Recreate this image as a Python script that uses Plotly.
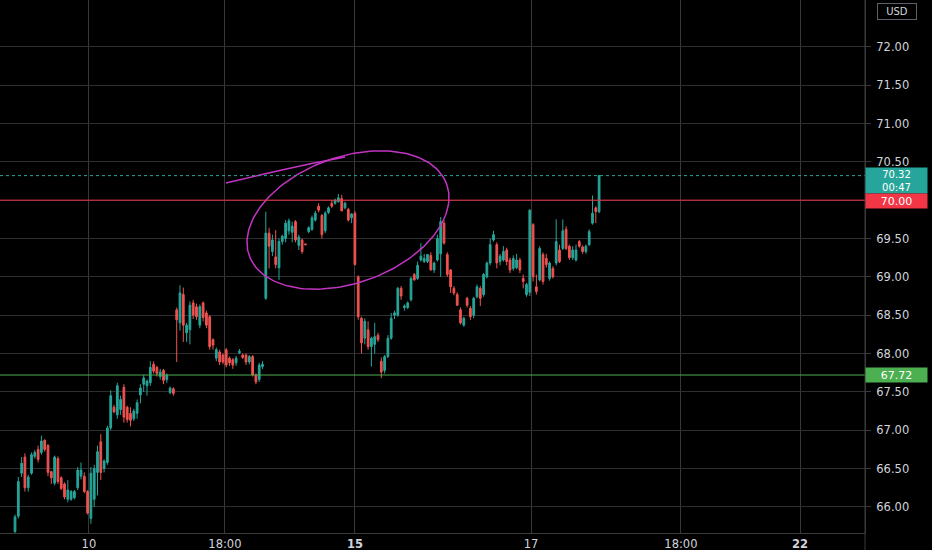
import numpy as np
import plotly.graph_objects as go

# ---------------- data ----------------
opens = [65.68, 65.88, 66.44, 66.65, 66.25, 66.44, 66.66, 66.75, 66.71, 66.87,
         66.80, 66.46, 66.31, 66.63, 66.38, 66.30, 66.10, 66.10, 66.12, 66.25,
         66.40, 66.40, 66.20, 65.85, 66.10, 66.45, 66.85, 66.50, 66.58, 67.03,
         67.30, 67.20, 67.27, 67.56, 67.30, 67.22, 67.15, 67.22, 67.46, 67.60,
         67.58, 67.62, 67.86, 67.82, 67.70, 67.78, 67.66, 67.49, 67.54, 68.57,
         68.40, 68.77, 68.27, 68.31, 68.66, 68.61, 68.37, 68.66, 68.53, 68.48,
         68.18, 67.94, 68.02, 67.98, 68.05, 67.94, 67.92, 67.88, 68.01, 67.98,
         67.98, 67.89, 67.96, 67.72, 67.66, 67.83, 68.72, 69.57, 69.33, 69.26,
         69.12, 69.46, 69.50, 69.60, 69.58, 69.72, 69.41, 69.48, 69.43, 69.59,
         69.62, 69.74, 69.92, 69.80, 69.60, 69.84, 69.96, 69.96, 69.98, 70.02,
         69.90, 69.88, 69.77, 69.83, 69.00, 68.46, 68.20, 68.31, 68.09, 68.12,
         68.24, 67.90, 67.78, 67.96, 68.20, 68.50, 68.50, 68.85, 68.60, 68.60,
         68.70, 69.03, 68.98, 69.22, 69.20, 69.20, 69.28, 69.09, 69.22, 69.30,
         69.70, 69.29, 69.09, 68.85, 68.77, 68.57, 68.37, 68.72, 68.59, 68.50,
         68.74, 68.85, 68.77, 69.00, 69.18, 69.48, 69.42, 69.20, 69.22, 69.35,
         69.22, 69.11, 69.12, 69.22, 68.98, 68.77, 68.80, 69.68, 68.87, 68.96,
         69.29, 69.24, 68.98, 69.11, 69.18, 69.35, 69.37, 69.62, 69.40, 69.25,
         69.22, 69.46, 69.39, 69.33, 69.42, 69.70, 69.90, 69.85]
highs = [65.90, 66.39, 66.65, 66.70, 66.42, 66.71, 66.74, 66.80, 66.93, 66.88,
         66.82, 66.47, 66.67, 66.66, 66.40, 66.32, 66.35, 66.22, 66.22, 66.52,
         66.58, 66.45, 66.22, 66.52, 66.55, 66.80, 66.95, 66.62, 67.06, 67.52,
         67.33, 67.62, 67.45, 67.60, 67.32, 67.30, 67.28, 67.40, 67.60, 67.72,
         67.66, 67.90, 67.90, 67.84, 67.80, 67.80, 67.74, 67.57, 67.56, 68.60,
         68.89, 68.86, 68.40, 68.68, 68.70, 68.65, 68.64, 68.68, 68.56, 68.50,
         68.20, 68.08, 68.05, 68.00, 68.07, 67.96, 67.94, 67.97, 68.06, 68.00,
         68.00, 67.98, 67.98, 67.74, 67.88, 67.90, 69.85, 69.64, 69.55, 69.61,
         69.50, 69.55, 69.74, 69.76, 69.72, 69.74, 69.55, 69.50, 69.43, 69.66,
         69.80, 69.86, 69.96, 69.82, 69.86, 69.92, 70.00, 70.02, 70.08, 70.07,
         69.98, 69.90, 69.83, 69.86, 69.02, 68.48, 68.46, 68.42, 68.22, 68.40,
         68.27, 67.95, 67.98, 68.24, 68.53, 68.56, 68.87, 68.88, 68.64, 68.68,
         69.00, 69.05, 69.20, 69.44, 69.30, 69.30, 69.32, 69.20, 69.55, 69.78,
         69.74, 69.32, 69.10, 68.88, 68.80, 68.60, 68.48, 68.74, 68.62, 68.74,
         68.90, 68.88, 69.05, 69.20, 69.50, 69.60, 69.45, 69.30, 69.40, 69.38,
         69.25, 69.28, 69.30, 69.25, 69.03, 68.92, 69.88, 69.70, 69.03, 69.40,
         69.32, 69.30, 69.20, 69.14, 69.75, 69.42, 69.75, 69.66, 69.42, 69.40,
         69.42, 69.48, 69.41, 69.42, 69.62, 70.06, 69.92, 70.33]
lows = [65.66, 65.85, 66.39, 66.20, 66.20, 66.42, 66.63, 66.58, 66.68, 66.72,
        66.40, 66.30, 66.28, 66.30, 66.22, 66.10, 66.06, 66.08, 66.10, 66.22,
        66.36, 66.18, 65.90, 65.78, 66.00, 66.15, 66.35, 66.45, 66.55, 67.00,
        67.22, 67.15, 67.20, 67.10, 67.10, 67.05, 67.12, 67.15, 67.35, 67.50,
        67.45, 67.58, 67.74, 67.70, 67.66, 67.60, 67.62, 67.47, 67.45, 67.89,
        68.30, 68.15, 68.15, 68.12, 68.45, 68.44, 68.33, 68.42, 68.33, 68.05,
        68.05, 67.90, 67.85, 67.86, 67.82, 67.84, 67.80, 67.84, 67.99, 67.93,
        67.85, 67.86, 67.70, 67.60, 67.63, 67.80, 68.70, 69.11, 69.27, 69.11,
        68.96, 69.42, 69.45, 69.55, 69.45, 69.45, 69.35, 69.30, 69.41, 69.57,
        69.60, 69.72, 69.84, 69.50, 69.57, 69.82, 69.90, 69.94, 69.97, 69.86,
        69.88, 69.72, 69.70, 69.15, 68.44, 68.00, 68.12, 68.05, 67.83, 68.00,
        68.15, 67.68, 67.74, 67.94, 68.18, 68.45, 68.48, 68.70, 68.56, 68.58,
        68.68, 68.95, 68.96, 69.20, 69.18, 69.18, 69.08, 69.05, 69.20, 69.00,
        69.42, 69.00, 68.79, 68.76, 68.62, 68.38, 68.35, 68.60, 68.44, 68.46,
        68.72, 68.62, 68.74, 68.98, 69.15, 69.46, 69.11, 69.15, 69.20, 69.15,
        69.05, 69.08, 69.10, 69.05, 68.85, 68.74, 68.75, 68.94, 68.77, 68.94,
        68.90, 69.12, 68.95, 68.98, 69.15, 69.18, 69.35, 69.35, 69.22, 69.22,
        69.20, 69.38, 69.30, 69.30, 69.40, 69.68, 69.70, 69.83]
closes = [65.87, 66.33, 66.57, 66.25, 66.39, 66.68, 66.71, 66.62, 66.86, 66.75,
          66.45, 66.38, 66.65, 66.33, 66.24, 66.13, 66.22, 66.20, 66.20, 66.48,
          66.48, 66.20, 65.92, 66.44, 66.50, 66.72, 66.45, 66.60, 67.03, 67.45,
          67.24, 67.58, 67.40, 67.17, 67.14, 67.13, 67.25, 67.36, 67.55, 67.68,
          67.64, 67.82, 67.77, 67.74, 67.76, 67.65, 67.72, 67.55, 67.48, 68.44,
          68.79, 68.37, 68.37, 68.63, 68.50, 68.48, 68.61, 68.47, 68.37, 68.09,
          68.11, 68.05, 67.89, 67.89, 67.85, 67.88, 67.85, 67.94, 68.03, 67.95,
          67.89, 67.96, 67.72, 67.63, 67.85, 67.86, 69.57, 69.40, 69.48, 69.16,
          69.46, 69.53, 69.70, 69.73, 69.66, 69.48, 69.52, 69.33, 69.42, 69.64,
          69.77, 69.83, 69.87, 69.55, 69.83, 69.90, 69.92, 70.00, 70.03, 69.86,
          69.96, 69.74, 69.82, 69.16, 68.48, 68.14, 68.42, 68.09, 68.20, 68.22,
          68.18, 67.76, 67.96, 68.20, 68.46, 68.53, 68.85, 68.75, 68.62, 68.66,
          68.98, 68.96, 69.15, 69.27, 69.24, 69.29, 69.09, 69.18, 69.50, 69.72,
          69.44, 69.03, 68.87, 68.79, 68.63, 68.40, 68.46, 68.63, 68.48, 68.72,
          68.87, 68.72, 69.03, 69.18, 69.42, 69.55, 69.18, 69.27, 69.33, 69.20,
          69.09, 69.24, 69.22, 69.09, 68.94, 68.90, 69.87, 69.00, 68.81, 69.37,
          68.94, 69.16, 69.18, 69.00, 69.46, 69.20, 69.60, 69.37, 69.25, 69.35,
          69.35, 69.40, 69.33, 69.40, 69.59, 69.83, 69.85, 70.32]
bar_index = list(range(len(opens)))

x_tick_pos = [22.4, 63.6, 103.0, 156.4, 201.8, 237.9]
x_tick_text = ["10", "18:00", "<b>15</b>", "17", "18:00", "<b>22</b>"]
y_tick_vals = [66.0, 66.5, 67.0, 67.5, 68.0, 68.5, 69.0, 69.5, 70.0, 70.5, 71.0, 71.5, 72.0]

last_price = 70.32
countdown = "00:47"
resistance = 70.00
support = 67.72

# ---------------- layout constants ----------------
W, H = 932, 550
M_L, M_R, M_T, M_B = 0, 67, 0, 17
PW, PH = W - M_L - M_R, H - M_T - M_B
X_RANGE = [-4.55, 257.58]
Y_RANGE = [65.66, 72.61]

def px2x(px):
    return X_RANGE[0] + np.asarray(px, float) / PW * (X_RANGE[1] - X_RANGE[0])

def py2y(py):
    return Y_RANGE[1] - np.asarray(py, float) / PH * (Y_RANGE[1] - Y_RANGE[0])

GREEN = "#26a69a"
RED = "#ef5350"
GRID = "#2e2e2e"
VGRID = "#383838"
TXT = "#d1d4dc"
FONT = "DejaVu Sans"

fig = go.Figure()
fig.add_trace(go.Candlestick(
    x=bar_index, open=opens, high=highs, low=lows, close=closes,
    increasing=dict(line=dict(color=GREEN, width=1), fillcolor=GREEN),
    decreasing=dict(line=dict(color=RED, width=1), fillcolor=RED),
    whiskerwidth=0, hoverinfo="skip", showlegend=False,
))

# hand-drawn ellipse annotation (drawing in screen space, converted to data)
t = np.linspace(0, 2 * np.pi, 200)
phi = np.deg2rad(20)
cx, cy, a, b = 348, 220, 105, 63
ex = cx + a * np.cos(t) * np.cos(phi) + b * np.sin(t) * np.sin(phi)
ey = cy - a * np.cos(t) * np.sin(phi) + b * np.sin(t) * np.cos(phi)
fig.add_trace(go.Scatter(x=px2x(ex), y=py2y(ey), mode="lines",
                         line=dict(color="#c235c2", width=1.5),
                         hoverinfo="skip", showlegend=False))
tail_px = [226, 260, 300, 345]
tail_py = [183, 175, 166, 157]
fig.add_trace(go.Scatter(x=px2x(tail_px), y=py2y(tail_py), mode="lines",
                         line=dict(color="#c235c2", width=1.5, shape="spline"),
                         hoverinfo="skip", showlegend=False))

shapes = [
    dict(type="line", xref="paper", x0=0, x1=1, yref="y", y0=resistance, y1=resistance,
         line=dict(color="#f23645", width=1)),
    dict(type="line", xref="paper", x0=0, x1=1, yref="y", y0=support, y1=support,
         line=dict(color="#4caf50", width=1)),
    dict(type="line", xref="paper", x0=0, x1=1, yref="y", y0=last_price, y1=last_price,
         line=dict(color=GREEN, width=1, dash="dot")),
    dict(type="line", xref="paper", x0=1, x1=1, yref="paper", y0=-M_B / PH, y1=1,
         line=dict(color="#3a3a3a", width=1)),
]

annotations = [
    dict(xref="paper", x=1, xanchor="left", yref="y", y=last_price, yanchor="top", yshift=9,
         text=f"{last_price:.2f}<br>{countdown}", showarrow=False, align="center",
         font=dict(family=FONT, size=10, color="white"), bgcolor=GREEN,
         width=59, height=23, borderpad=1),
    dict(xref="paper", x=1, xanchor="left", yref="y", y=resistance, yanchor="middle", yshift=-1,
         text=f"{resistance:.2f}", showarrow=False, align="center",
         font=dict(family=FONT, size=11, color="white"), bgcolor="#f23645",
         width=59, height=12, borderpad=1),
    dict(xref="paper", x=1, xanchor="left", yref="y", y=support, yanchor="middle",
         text=f"{support:.2f}", showarrow=False, align="center",
         font=dict(family=FONT, size=11, color="white"), bgcolor="#4caf50",
         width=59, height=12, borderpad=1),
    dict(xref="paper", x=1, xshift=12, xanchor="left", yref="paper", y=1, yshift=-3, yanchor="top",
         text="USD", showarrow=False, font=dict(family=FONT, size=10, color=TXT),
         bordercolor="#5d606b", borderwidth=1, borderpad=2, width=34),
]

# the 70.00 tick label sits under the red price tag, so leave it blank
y_tick_text = ["" if abs(v - resistance) < 1e-9 else f"{v:.2f}" for v in y_tick_vals]

fig.update_layout(
    width=W, height=H, template="none",
    margin=dict(l=M_L, r=M_R, t=M_T, b=M_B),
    paper_bgcolor="#000000", plot_bgcolor="#000000",
    showlegend=False, shapes=shapes, annotations=annotations, boxgap=0.25,
    xaxis=dict(range=X_RANGE, rangeslider=dict(visible=False), tickmode="array",
               tickvals=x_tick_pos, ticktext=x_tick_text, showgrid=True, gridcolor=VGRID,
               gridwidth=1, zeroline=False, showline=True, linecolor="#3a3a3a", linewidth=1,
               ticks="", tickfont=dict(family=FONT, size=11.5, color=TXT), automargin=False,
               fixedrange=True),
    yaxis=dict(range=Y_RANGE, side="right", tickmode="array", tickvals=y_tick_vals,
               ticktext=y_tick_text, showgrid=True, gridcolor=GRID,
               gridwidth=1, zeroline=False, showline=True, linecolor="#3a3a3a", linewidth=1,
               ticks="outside", ticklen=5, tickcolor="#3a3a3a", ticklabelstandoff=3,
               tickfont=dict(family=FONT, size=11.5, color=TXT), automargin=False,
               fixedrange=True),
)

fig.write_html(
    "out.html",
    config={"displayModeBar": False},
    post_script="document.body.style.margin='0';document.body.style.background='#000';",
)
